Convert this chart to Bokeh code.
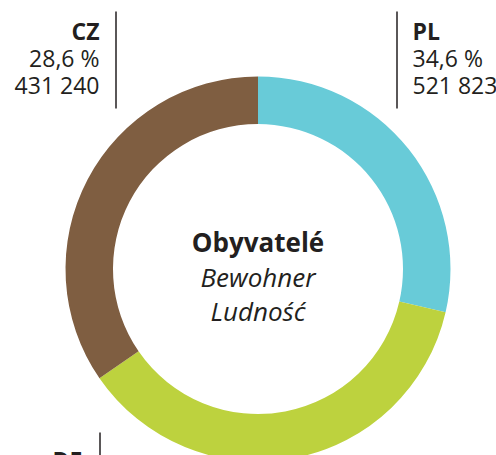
from bokeh.plotting import figure
from bokeh.models import Range1d, ColumnDataSource
from bokeh.core.properties import value
from bokeh.embed import file_html
from bokeh.resources import INLINE
import math

# ---- data ----
slice_shares = [28.6, 36.8, 34.6]          # drawn clockwise from 12 o'clock
slice_colors = ["#68CBD8", "#BDD23E", "#7F5E41"]

label_names = ["CZ", "PL", "DE"]
label_percents = ["28,6 %", "34,6 %", ""]
label_counts = ["431 240", "521 823", ""]

center_lines = ["Obyvatelé", "Bewohner", "Ludność"]

FONT = "Open Sans"
TXT = "#231f20"

W, H = 496, 455
p = figure(width=W, height=H, output_backend="svg", toolbar_location=None,
           x_range=Range1d(0, 496), y_range=Range1d(0, 455),
           min_border=0, outline_line_color=None)
p.axis.visible = False
p.grid.visible = False
p.background_fill_color = "white"
p.border_fill_color = "white"

def Y(py):
    return 455 - py

cx, cy = 257.5, Y(268.5)
r_out, r_in = 192.5, 145

total = sum(slice_shares)
starts, ends = [], []
cum = 0.0
for s in slice_shares:
    a0 = math.pi / 2 - 2 * math.pi * cum / total
    cum += s
    a1 = math.pi / 2 - 2 * math.pi * cum / total
    starts.append(a1)
    ends.append(a0)

src = ColumnDataSource(dict(x=[cx] * 3, y=[cy] * 3, start=starts, end=ends, color=slice_colors))
p.annular_wedge(x="x", y="y", inner_radius=r_in, outer_radius=r_out,
                start_angle="start", end_angle="end", direction="anticlock",
                fill_color="color", line_color=None, source=src)

# leader lines
p.segment(x0=[115.5, 396.5, 99.5], y0=[Y(11), Y(11), Y(432)],
          x1=[115.5, 396.5, 99.5], y1=[Y(108), Y(108), Y(460)],
          line_color=TXT, line_width=1.5)

fs = "23px"
# CZ (right-aligned)
p.text(x=[99], y=[Y(30)], text=[label_names[0]], text_font=value(FONT), text_font_size=fs,
       text_font_style="bold", text_align="right", text_baseline="alphabetic", text_color=TXT)
p.text(x=[99, 99], y=[Y(57), Y(84)], text=[label_percents[0], label_counts[0]],
       text_font=value(FONT), text_font_size=fs, text_align="right",
       text_baseline="alphabetic", text_color=TXT)
# PL (left-aligned)
p.text(x=[412], y=[Y(30)], text=[label_names[1]], text_font=value(FONT), text_font_size=fs,
       text_font_style="bold", text_align="left", text_baseline="alphabetic", text_color=TXT)
p.text(x=[412, 412], y=[Y(57), Y(84)], text=[label_percents[1], label_counts[1]],
       text_font=value(FONT), text_font_size=fs, text_align="left",
       text_baseline="alphabetic", text_color=TXT)
# DE (cut at bottom)
p.text(x=[82], y=[Y(459)], text=[label_names[2]], text_font=value(FONT), text_font_size=fs,
       text_font_style="bold", text_align="right", text_baseline="alphabetic", text_color=TXT)

# center text
cs = "26px"
p.text(x=[cx], y=[Y(241)], text=[center_lines[0]], text_font=value(FONT), text_font_size=cs,
       text_font_style="bold", text_align="center", text_baseline="alphabetic", text_color=TXT)
p.text(x=[cx, cx], y=[Y(276), Y(310)], text=center_lines[1:], text_font=value(FONT),
       text_font_size=cs, text_font_style="italic", text_align="center",
       text_baseline="alphabetic", text_color=TXT)

open("out.html", "w").write(file_html(p, INLINE))
